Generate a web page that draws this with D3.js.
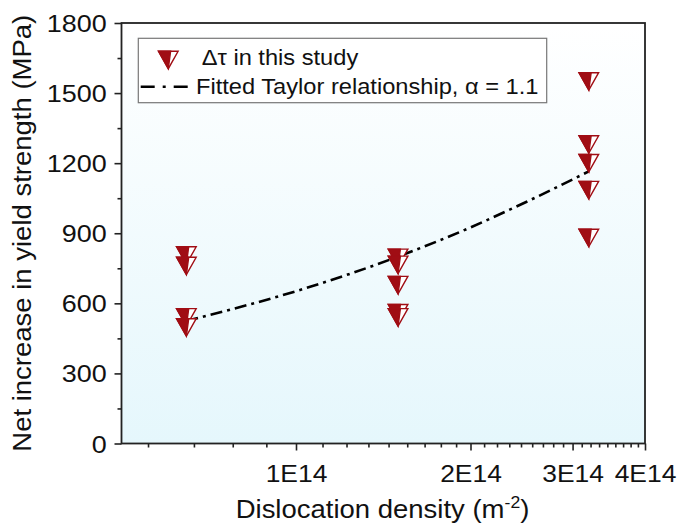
<!DOCTYPE html>
<html>
<head>
<meta charset="utf-8">
<script src="https://cdn.jsdelivr.net/npm/d3@7"></script>
<style>
  body { margin: 0; background: #fff; }
  svg { display: block; font-family: "Liberation Sans", Arial, sans-serif; }
</style>
</head>
<body>
<svg id="my-svg" width="681" height="527"></svg>
<script>
// measured points: dislocation density (m^-2) and net increase in yield strength (MPa)
const densityValues = [6.47e13, 6.47e13, 6.47e13, 6.47e13,
                       1.5e14, 1.5e14, 1.5e14, 1.5e14, 1.5e14,
                       3.2e14, 3.2e14, 3.2e14, 3.2e14, 3.2e14];
const strengthValues = [805, 760, 540, 497,
                        795, 765, 678, 558, 540,
                        1550, 1280, 1200, 1085, 880];

// fitted Taylor relationship
const fitDensity = [6.47e13, 1e14, 1.5e14, 2e14, 2.5e14, 3.2e14];
const fitStrength = [525, 652, 800, 925, 1035, 1165];

const xMajorTicks = [1e14, 2e14, 3e14, 4e14];
const yMajorTicks = [0, 300, 600, 900, 1200, 1500, 1800];

const svg = d3.select('svg');
const svgWidth = 681;
const svgHeight = 527;
const margin = {top: 23, right: 36, bottom: 83.5, left: 121.5};
const innerWidth = svgWidth - margin.left - margin.right;
const innerHeight = svgHeight - margin.top - margin.bottom;
const stretch = 1.1;   // the original lettering is a bit wider than Arial
const markColor = '#a00d14';
const fontFamily = '"Liberation Sans", Arial, sans-serif';

// widen a text horizontally around its own anchor x
const widen = (x) => `matrix(${stretch},0,0,1,${(1 - stretch) * x},0)`;

const xScale = d3.scaleLog().domain([5e13, 4e14]).range([0, innerWidth]);
const yScale = d3.scaleLinear().domain([0, 1800]).range([innerHeight, 0]);

// Origin style minor ticks: 8 per interval of 1E14, also below 1E14
const xMinorTicks = [];
[0].concat(xMajorTicks.slice(0, -1)).forEach((start) => {
    for (let k = 1; k < 9; k++) {
        const v = start + k * 1e14 / 9;
        if (v > 5e13 && v < 4e14) xMinorTicks.push(v);
    }
});
const yMinorTicks = yMajorTicks.slice(0, -1).map((d) => d + 150);

const defs = svg.append('defs');
const grad = defs.append('linearGradient')
    .attr('id', 'bg').attr('x1', 0).attr('y1', 0).attr('x2', 0).attr('y2', 1);
grad.append('stop').attr('offset', '0%').attr('stop-color', '#ffffff');
grad.append('stop').attr('offset', '100%').attr('stop-color', '#e5f7fc');

const g = svg.append('g')
    .attr('transform', `translate(${margin.left}, ${margin.top})`);

g.append('rect')
    .attr('width', innerWidth)
    .attr('height', innerHeight)
    .attr('fill', 'url(#bg)');

// axes
const xAxisGroup = g.append('g')
    .attr('transform', `translate(0, ${innerHeight})`)
    .call(d3.axisBottom(xScale).tickValues(xMajorTicks).tickSize(7)
        .tickFormat((d) => `${Math.round(d / 1e14)}E14`));
const xMinorGroup = g.append('g')
    .attr('transform', `translate(0, ${innerHeight})`)
    .call(d3.axisBottom(xScale).tickValues(xMinorTicks).tickSize(4).tickFormat(''));

const yAxisGroup = g.append('g')
    .call(d3.axisLeft(yScale).tickValues(yMajorTicks).tickSize(7).tickFormat(d3.format('d')));
const yMinorGroup = g.append('g')
    .call(d3.axisLeft(yScale).tickValues(yMinorTicks).tickSize(4).tickFormat(''));

[xAxisGroup, xMinorGroup, yAxisGroup, yMinorGroup].forEach((ax) => {
    ax.select('.domain').remove();
    ax.selectAll('line').attr('stroke', '#222').attr('stroke-width', 1.6);
});

xAxisGroup.selectAll('text')
    .attr('x', 0).attr('y', 38.8).attr('dy', 0)
    .attr('transform', widen(0))
    .attr('font-size', 24).attr('fill', '#111')
    .attr('font-family', fontFamily);

yAxisGroup.selectAll('text')
    .attr('x', -14.8).attr('dy', '0.35em')
    .attr('transform', widen(-14.8))
    .attr('font-size', 24.5).attr('fill', '#111')
    .attr('font-family', fontFamily);

// frame
g.append('rect')
    .attr('width', innerWidth)
    .attr('height', innerHeight)
    .attr('fill', 'none')
    .attr('stroke', '#222')
    .attr('stroke-width', 1.8);

// axis titles
const xTitle = svg.append('text')
    .attr('x', 382.5).attr('y', 518.3)
    .attr('transform', widen(382.5))
    .attr('text-anchor', 'middle')
    .attr('font-size', 25).attr('fill', '#111');
xTitle.append('tspan').text('Dislocation density (m');
xTitle.append('tspan').attr('font-size', 16).attr('dy', -10).text('-2');
xTitle.append('tspan').attr('dy', 10).text(')');

const yTitleX = 31.5;
const yTitleY = margin.top + innerHeight / 2;
svg.append('text')
    .attr('x', yTitleX).attr('y', yTitleY)
    .attr('transform', `translate(0, ${yTitleY}) scale(1, ${stretch}) translate(0, ${-yTitleY}) rotate(-90 ${yTitleX} ${yTitleY})`)
    .attr('text-anchor', 'middle')
    .attr('font-size', 25).attr('fill', '#111')
    .text('Net increase in yield strength (MPa)');

// fitted line
const fitData = fitDensity.map((d, i) => [d, fitStrength[i]]);
const line = d3.line()
    .x((d) => xScale(d[0]))
    .y((d) => yScale(d[1]))
    .curve(d3.curveMonotoneX);

g.append('path')
    .datum(fitData)
    .attr('d', line)
    .attr('fill', 'none')
    .attr('stroke', '#000')
    .attr('stroke-width', 2.6)
    .attr('stroke-dasharray', '12,5,3,5');

// half filled down triangle marker
const drawMarker = (sel) => {
    const w = 9.8, h = 8.7;
    sel.append('path')
        .attr('d', `M${-w},${-h}L${w},${-h}L0,${h}Z`)
        .attr('fill', '#fff')
        .attr('stroke', markColor)
        .attr('stroke-width', 1.4)
        .attr('stroke-linejoin', 'miter');
    sel.append('path')
        .attr('d', `M${-w},${-h}L2.3,${-h}L0,${h}Z`)
        .attr('fill', markColor)
        .attr('stroke', markColor)
        .attr('stroke-width', 1.4);
};

const points = densityValues.map((d, i) => [d, strengthValues[i]]);
g.selectAll('g.pt').data(points)
    .enter()
    .append('g')
    .attr('class', 'pt')
    .attr('transform', (d) => `translate(${xScale(d[0])}, ${yScale(d[1])})`)
    .each(function() { drawMarker(d3.select(this)); });

// legend
const legend = svg.append('g');
legend.append('rect')
    .attr('x', 138.3).attr('y', 38.3)
    .attr('width', 408.4).attr('height', 64.4)
    .attr('fill', '#fff')
    .attr('stroke', '#777')
    .attr('stroke-width', 1.2);
legend.append('g')
    .attr('transform', 'translate(168.3, 60)')
    .call(drawMarker);
legend.append('text')
    .attr('x', 201.7).attr('y', 65)
    .attr('transform', widen(201.7))
    .attr('font-size', 21.5).attr('fill', '#111')
    .text('Δτ in this study');
legend.append('line')
    .attr('x1', 140.7).attr('x2', 195)
    .attr('y1', 86.7).attr('y2', 86.7)
    .attr('stroke', '#000')
    .attr('stroke-width', 2.6)
    .attr('stroke-dasharray', '14,8,3,8');
legend.append('text')
    .attr('x', 196).attr('y', 94)
    .attr('transform', widen(196))
    .attr('font-size', 21.5).attr('fill', '#111')
    .text('Fitted Taylor relationship, α = 1.1');
</script>
</body>
</html>
